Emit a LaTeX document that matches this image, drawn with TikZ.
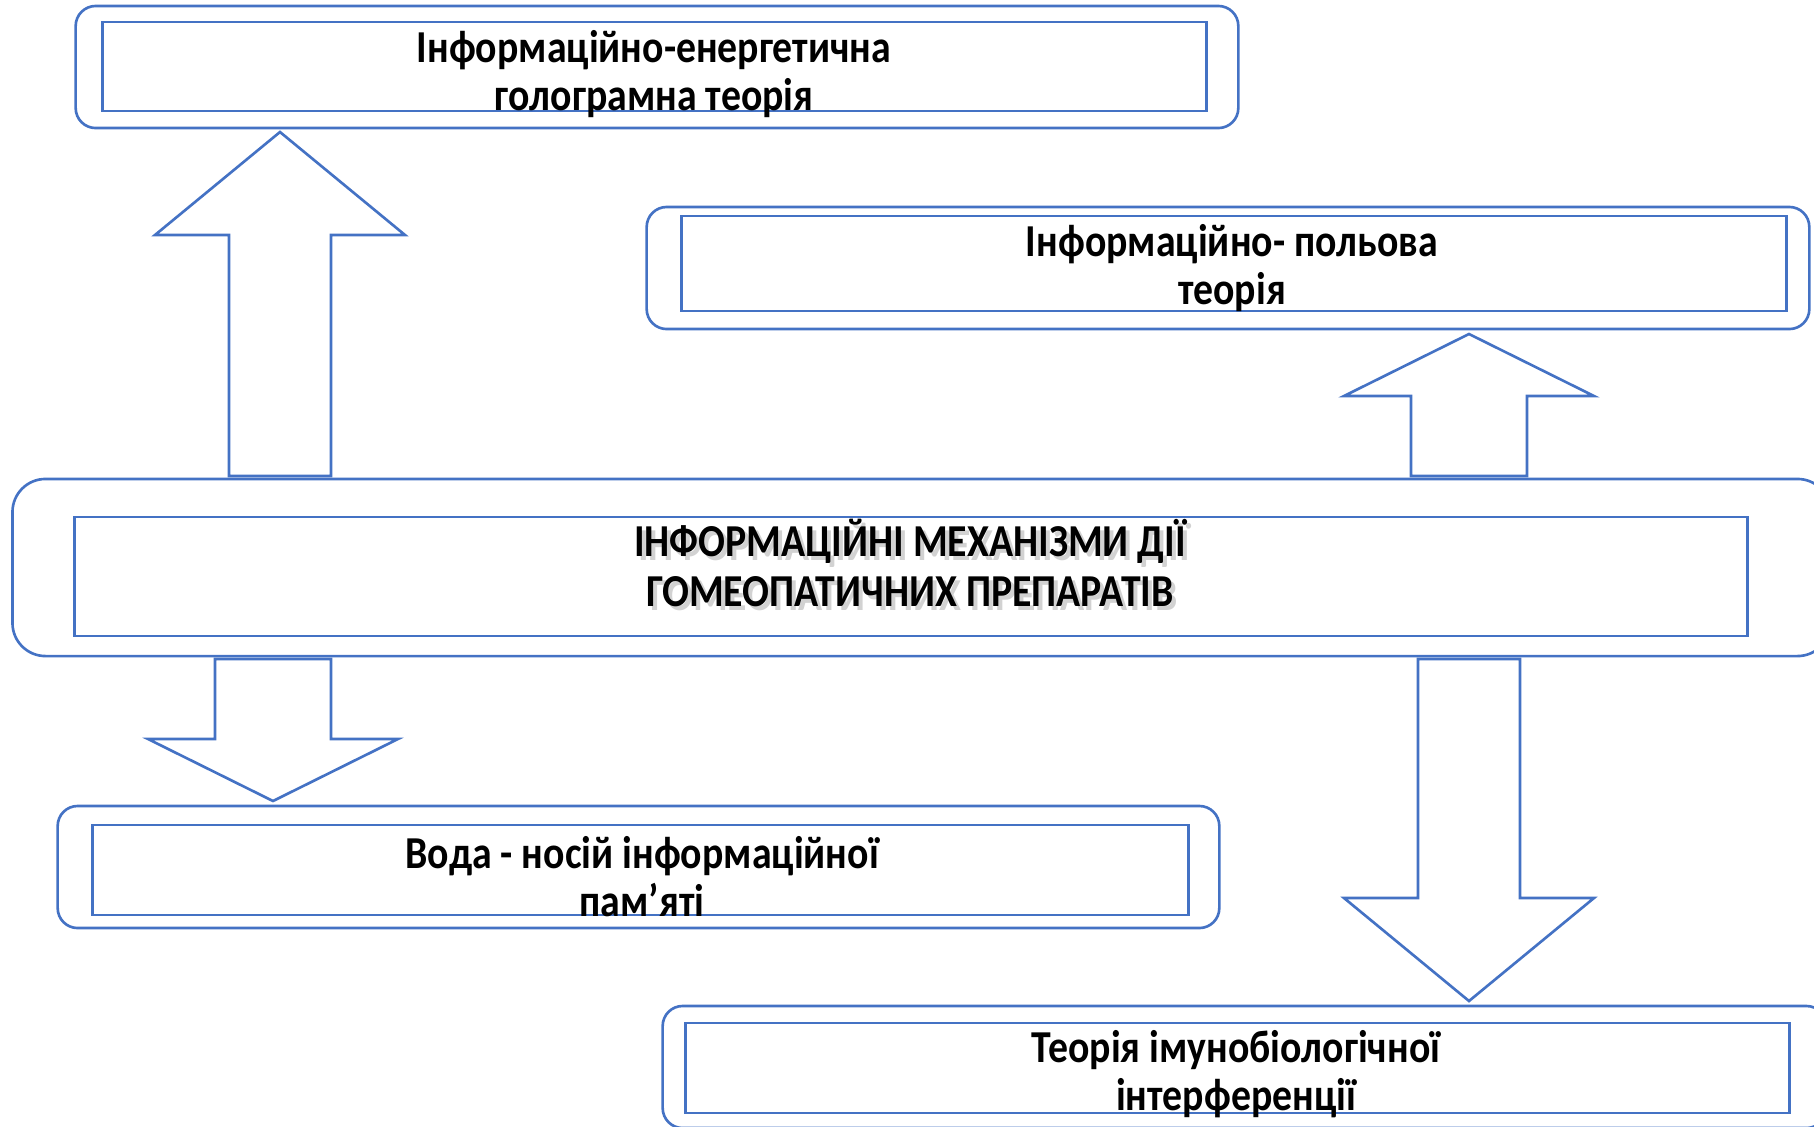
\documentclass[tikz,border=0pt]{standalone}
\usepackage{fontspec}
\setmainfont{Carlito}[FakeStretch=0.87]
\usepackage{tikz}
\definecolor{offblue}{HTML}{4472C4}
\tikzset{
  every picture/.append style={line width=0.75pt},
}

\begin{document}
\begin{tikzpicture}[x=0.01cm, y=-0.01cm,
  outerbox/.style={draw=offblue, rounded corners=2mm, inner sep=0pt},
  innerbox/.style={draw=offblue, inner sep=0pt},
  blockarrow/.style={draw=offblue, line join=miter},
  boxtext/.style={font=\bfseries\fontsize{13}{13.8}\selectfont, align=center, inner sep=0pt},
  titletext/.style={font=\bfseries\fontsize{13}{14.2}\selectfont, align=center, inner sep=0pt}
]
\useasboundingbox (0,0) rectangle (1814,1126);
\clip (0,0) rectangle (1814,1126);

% Outer rounded frames
\node[outerbox, minimum width=11.62cm, minimum height=1.22cm] (holo-out) at (657,67) {};
\node[outerbox, minimum width=11.62cm, minimum height=1.22cm] (field-out) at (1228,268) {};
\node[outerbox, rounded corners=3.3mm, minimum width=18.17cm, minimum height=1.77cm] (mech-out) at (921.5,567.5) {};
\node[outerbox, minimum width=11.61cm, minimum height=1.22cm] (water-out) at (638.5,867) {};
\node[outerbox, minimum width=11.63cm, minimum height=1.22cm] (immuno-out) at (1244.5,1067) {};

% Inner frames
\node[innerbox, minimum width=11.03cm, minimum height=0.89cm] (holo) at (654.5,66.5) {};
\node[innerbox, minimum width=11.04cm, minimum height=0.95cm] (field) at (1234,263.5) {};
\node[innerbox, minimum width=16.72cm, minimum height=1.19cm] (mech) at (911,576.5) {};
\node[innerbox, minimum width=10.95cm, minimum height=0.90cm] (water) at (640.5,870) {};
\node[innerbox, minimum width=11.03cm, minimum height=0.90cm] (immuno) at (1237.5,1068) {};

% Texts
\node[boxtext] (holo-txt) at (654,74) {Інформаційно-енергетична\\голограмна теорія};
\node[boxtext] (field-txt) at (1232,268) {Інформаційно- польова\\теорія};
\node[titletext, text=black!25, opacity=0.7] (mech-shadow) at (914,567) {ІНФОРМАЦІЙНІ МЕХАНІЗМИ ДІЇ\\ГОМЕОПАТИЧНИХ ПРЕПАРАТІВ};
\node[titletext] (mech-txt) at (910,563) {ІНФОРМАЦІЙНІ МЕХАНІЗМИ ДІЇ\\ГОМЕОПАТИЧНИХ ПРЕПАРАТІВ};
\node[boxtext] (water-txt) at (642,876.5) {Вода - носій інформаційної\\пам’яті};
\node[boxtext] (immuno-txt) at (1236,1074) {Теорія імунобіологічної\\інтерференції};

% Block arrows
\draw[blockarrow] (229,476) -- (229,235) -- (155,235) -- (280,132) -- (405,235) -- (331,235) -- (331,476) -- cycle;
\draw[blockarrow] (1411,476) -- (1411,396) -- (1344,396) -- (1469,334) -- (1594,396) -- (1527,396) -- (1527,476) -- cycle;
\draw[blockarrow] (215,659) -- (215,739) -- (148,739) -- (273,801) -- (398,739) -- (331,739) -- (331,659) -- cycle;
\draw[blockarrow] (1418,659) -- (1418,898) -- (1344,898) -- (1469,1001) -- (1594,898) -- (1520,898) -- (1520,659) -- cycle;

\end{tikzpicture}
\end{document}
